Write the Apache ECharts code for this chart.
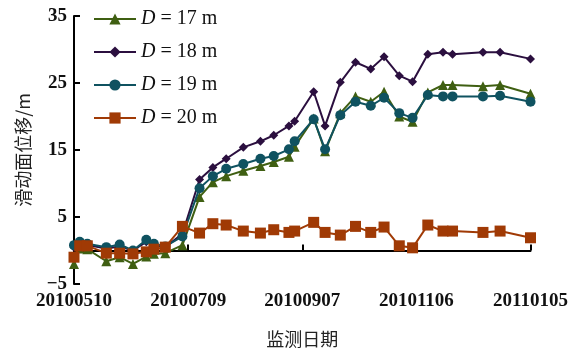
<!DOCTYPE html>
<html>
<head>
<meta charset="utf-8">
<script src="https://cdn.jsdelivr.net/npm/echarts@6/dist/echarts.min.js"></script>
<style>
  html, body { margin: 0; padding: 0; background: #fff; }
  #chart { width: 571px; height: 354px; }
</style>
</head>
<body>
<div id="chart"></div>
<script>
// Monitoring dates, counted in days from 2010-05-10
const days = [0, 3, 7, 17, 24, 31, 38, 42, 48, 57, 66, 73, 80, 89, 98, 105, 113, 116,
              126, 132, 140, 148, 156, 163, 171, 178, 186, 194, 199, 215, 224, 240];
const xTickLabels = ['20100510', '20100709', '20100907', '20101106', '20110105'];
const yTickLabels = { '-5': '\u22125', '5': '5', '15': '15', '25': '25', '35': '35' };
const seriesNames = ['D = 17 m', 'D = 18 m', 'D = 19 m', 'D = 20 m'];

// Slip-surface displacement (m) at each depth
const d17 = [-2.0, 0.3, 0.2, -1.6, -1.0, -2.0, -0.9, -0.5, -0.4, 0.8, 8.0, 10.2, 11.1, 11.9, 12.6, 13.2, 14.0, 15.5,
             19.7, 14.8, 20.5, 23.0, 22.2, 23.7, 20.0, 19.2, 23.6, 24.7, 24.7, 24.5, 24.7, 23.4];
const d18 = [0.5, 1.0, 0.8, 0.3, 0.6, 0.0, 1.3, 0.8, 0.5, 2.5, 10.6, 12.4, 13.7, 15.4, 16.3, 17.2, 18.6, 19.3,
             23.7, 18.6, 25.1, 28.1, 27.1, 28.9, 26.1, 25.2, 29.3, 29.6, 29.3, 29.6, 29.6, 28.6];
const d19 = [0.8, 1.3, 1.0, 0.5, 0.9, 0.0, 1.6, 1.0, 0.6, 2.1, 9.3, 11.1, 12.2, 12.9, 13.7, 14.1, 15.1, 16.3,
             19.6, 15.1, 20.2, 22.2, 21.6, 22.8, 20.5, 19.8, 23.2, 23.0, 23.0, 23.0, 23.1, 22.2];
const d20 = [-1.0, 0.7, 0.7, -0.4, -0.4, -0.5, -0.2, 0.2, 0.5, 3.6, 2.6, 4.0, 3.8, 2.9, 2.6, 3.1, 2.7, 2.9,
             4.2, 2.7, 2.3, 3.6, 2.7, 3.5, 0.7, 0.4, 3.8, 2.9, 2.9, 2.7, 2.9, 1.9];

const colors = ['#3f5f12', '#2b0f3f', '#0f5260', '#a03a05'];
const symbols = ['triangle', 'diamond', 'circle', 'rect'];
const symbolSizes = [10, 9, 10, 11];
const values = [d17, d18, d19, d20];

const serif = '"Liberation Serif", "Times New Roman", serif';
const cjk = '"Noto Sans CJK SC", sans-serif';

const chart = echarts.init(document.getElementById('chart'), null, { renderer: 'canvas' });

chart.setOption({
  animation: false,
  backgroundColor: '#fff',
  grid: { left: 74, right: 35, top: 16, bottom: 70, containLabel: false },
  legend: {
    data: seriesNames,
    orient: 'vertical',
    left: 88,
    top: 4,
    itemWidth: 42,
    itemHeight: 14,
    itemGap: 13,
    formatter: name => '{i|D}{t|' + name.slice(1) + '}',
    textStyle: {
      color: '#111',
      rich: {
        i: { fontFamily: serif, fontSize: 20, fontStyle: 'italic', color: '#111' },
        t: { fontFamily: serif, fontSize: 20, color: '#111' }
      }
    }
  },
  xAxis: {
    type: 'value',
    min: 0,
    max: 240,
    interval: 60,
    name: '监测日期',
    nameLocation: 'middle',
    nameGap: 46,
    nameTextStyle: { fontFamily: cjk, fontSize: 18, color: '#222' },
    axisLine: { lineStyle: { color: '#000', width: 2 } },
    axisTick: { inside: true, length: 6, lineStyle: { color: '#000', width: 2 } },
    axisLabel: {
      margin: 8,
      fontFamily: serif,
      fontSize: 19,
      fontWeight: 'bold',
      color: '#111',
      formatter: v => xTickLabels[Math.round(v / 60)]
    },
    splitLine: { show: false }
  },
  yAxis: {
    type: 'value',
    min: -5,
    max: 35,
    interval: 10,
    name: '滑动面位移/m',
    nameLocation: 'middle',
    nameGap: 42,
    nameRotate: 90,
    nameTextStyle: { fontFamily: cjk, fontSize: 18, color: '#222' },
    axisLine: { lineStyle: { color: '#000', width: 2 } },
    axisTick: { inside: true, length: 6, lineStyle: { color: '#000', width: 2 } },
    axisLabel: {
      margin: 7,
      fontFamily: serif,
      fontSize: 19,
      fontWeight: 'bold',
      color: '#111',
      formatter: v => yTickLabels[String(v)]
    },
    splitLine: { show: false }
  },
  series: seriesNames.map((name, k) => ({
    name: name,
    type: 'line',
    data: days.map((d, i) => [d, values[k][i]]),
    symbol: symbols[k],
    symbolSize: symbolSizes[k],
    showAllSymbol: true,
    itemStyle: { color: colors[k] },
    lineStyle: { color: colors[k], width: 2 },
    z: 2 + k
  }))
});
</script>
</body>
</html>
